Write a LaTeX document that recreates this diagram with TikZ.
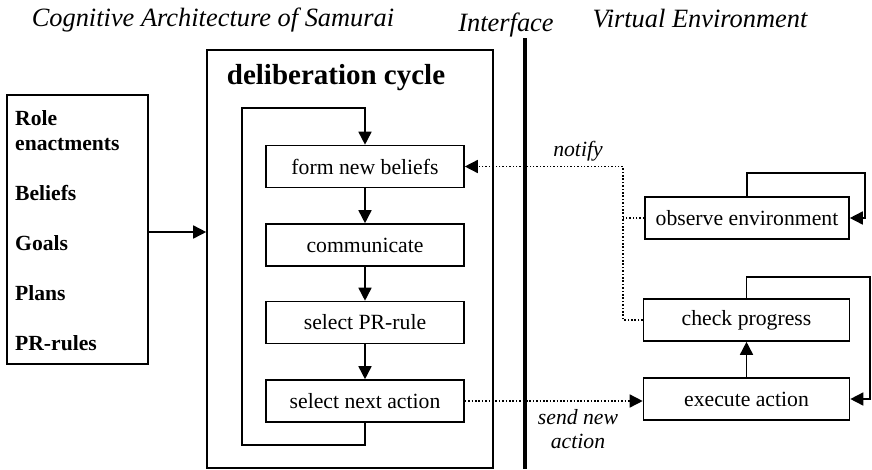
\documentclass[tikz,border=0pt]{standalone}
\usepackage{fontspec}
\setmainfont{Liberation Serif}
\usetikzlibrary{arrows.meta}
\begin{document}
\begin{tikzpicture}[x=1pt,y=-1pt,
  box/.style={draw,line width=1.6pt,minimum height=42pt,inner sep=0pt,font=\fontsize{21.7}{26}\selectfont},
  cbox/.style={box,minimum width=198pt},
  rbox/.style={box,minimum width=206pt},
  frame/.style={draw,line width=1.6pt,inner sep=0pt},
  flow/.style={line width=1.6pt,-{Triangle[length=13pt,width=13pt]}},
  dotline/.style={line width=1.5pt,dash pattern=on 1.5pt off 1.9pt},
  dotflow/.style={dotline,-{Triangle[length=13pt,width=13pt]}},
  titletext/.style={font=\fontsize{26.4}{30}\selectfont\itshape,inner sep=0pt,anchor=base},
  lbl/.style={font=\fontsize{21.7}{24}\selectfont\itshape,align=center,inner sep=0pt},
  kbtext/.style={font=\fontsize{21.6}{26}\selectfont\bfseries,anchor=base west,inner sep=0pt}]
\useasboundingbox (0,0) rectangle (872,469);
% titles
\node[titletext] (t1) at (213,26) {Cognitive Architecture of Samurai};
\node[titletext] (t2) at (506,31) {Interface};
\node[titletext] (t3) at (700,27) {Virtual Environment};
% interface line
\coordinate (ifTop) at (525,38);
\coordinate (ifBot) at (525,469);
\draw[line width=4.8pt] (ifTop) -- (ifBot);
% knowledge box
\node[frame,minimum width=141pt,minimum height=269pt] (kb) at (77.5,229.5) {};
\node[kbtext] (k1) at (15,125) {Role};
\node[kbtext] (k2) at (15,150) {enactments};
\node[kbtext] (k3) at (15,200) {Beliefs};
\node[kbtext] (k4) at (15,250) {Goals};
\node[kbtext] (k5) at (15,300) {Plans};
\node[kbtext] (k6) at (15,350) {PR-rules};
% deliberation cycle
\node[frame,minimum width=286pt,minimum height=418pt] (delib) at (350,259) {};
\node[font=\fontsize{29}{34}\selectfont\bfseries,inner sep=0pt] (dh) at (336,78) {deliberation cycle};
\node[cbox] (form) at (365,166.5) {form new beliefs};
\node[cbox] (comm) at (365,245) {communicate};
\node[cbox] (prr) at (365,322.5) {select PR-rule};
\node[cbox] (next) at (365,401) {select next action};
\coordinate (loopBL) at (242,445);
\coordinate (loopTL) at (242,108);
\draw[flow] (next.south) -- (next.south |- loopBL) -- (loopBL) -- (loopTL) -- (loopTL -| form.north) -- (form.north);
\draw[flow] (form) -- (comm);
\draw[flow] (comm) -- (prr);
\draw[flow] (prr) -- (next);
\draw[flow] (kb.east |- 0,232) -- (delib.west |- 0,232);
% environment
\node[rbox,minimum width=204pt] (obs) at (747,218) {observe environment};
\node[rbox] (chk) at (746.5,320) {check progress};
\node[rbox] (exec) at (746.5,399) {execute action};
\coordinate (obsR) at (865,173);
\coordinate (chkR) at (870,277);
\draw[flow] (obs.north) |- (obsR) |- (obs.east);
\draw[flow] (chk.north) |- (chkR) |- (exec.east);
\draw[flow] (exec) -- (chk);
% notify
\coordinate (ncx) at (623,0);
\coordinate (nc) at (form.east -| ncx);
\draw[dotflow] (chk.west) -| (nc) -- (form.east);
\draw[dotline] (obs.west) -- (obs.west -| nc);
\node[lbl] (notify) at (578,151) {notify};
% send new action
\draw[dotflow] (next.east) -- (next.east -| exec.west);
\node[lbl] (send) at (578,429) {send new\\action};
\end{tikzpicture}
\end{document}
